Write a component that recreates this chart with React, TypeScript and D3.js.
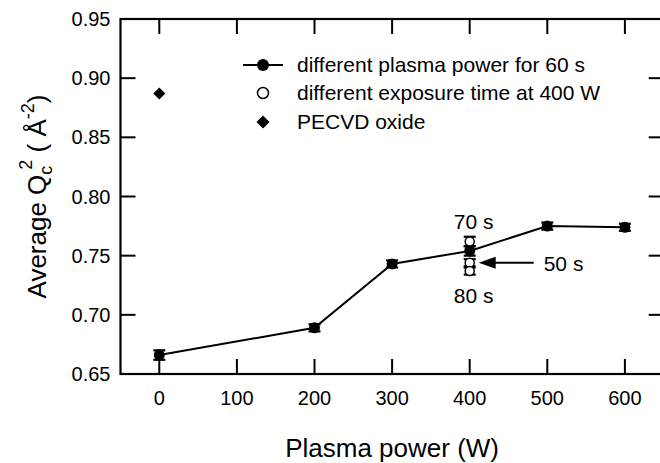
import React from "react";
import * as d3 from "d3";

const powers = [0, 200, 300, 400, 500, 600];
const avgQ = [0.666, 0.689, 0.743, 0.754, 0.775, 0.774];
const avgErr = [0.004, 0.003, 0.003, 0.004, 0.003, 0.003];

const expLabels = ["70 s", "50 s", "80 s"];
const expPower = [400, 400, 400];
const expQ = [0.762, 0.744, 0.737];
const expErr = [0.004, 0.003, 0.003];

const pecvdPower = [0];
const pecvdQ = [0.887];

const xTicks = [0, 100, 200, 300, 400, 500, 600];
const yTicks = [0.65, 0.7, 0.75, 0.8, 0.85, 0.9, 0.95];

const legendLabels = [
  "different plasma power for 60 s",
  "different exposure time at 400 W",
  "PECVD oxide",
];

const W = 660;
const H = 463;
const FONT = "'Liberation Sans', Arial, Helvetica, sans-serif";

export default function App() {
  const x = d3.scaleLinear().domain([-50, 650]).range([120.5, 663.7]);
  const y = d3.scaleLinear().domain([0.65, 0.95]).range([374, 19]);
  const line = d3
    .line<number>()
    .x((_, i) => x(powers[i]))
    .y((d) => y(d));
  const TL = 15;
  const left = x.range()[0];
  const right = x.range()[1];
  const top = y.range()[1];
  const bottom = y.range()[0];

  const errBar = (px: number, v: number, e: number, key: string) => {
    const cx = x(px);
    const y1 = y(v - e);
    const y2 = y(v + e);
    return (
      <g key={key} stroke="#000" strokeWidth={2.2}>
        <line x1={cx} x2={cx} y1={y1} y2={y2} />
        <line x1={cx - 6} x2={cx + 6} y1={y1} y2={y1} />
        <line x1={cx - 6} x2={cx + 6} y1={y2} y2={y2} />
      </g>
    );
  };

  const diamond = (cx: number, cy: number, r: number) =>
    `M${cx},${cy - r}L${cx + r},${cy}L${cx},${cy + r}L${cx - r},${cy}Z`;

  const arrowY = y(expQ[1]);
  const arrowTip = x(400) + 9;
  const legX = 263;
  const legY = [65, 93, 122];

  return (
    <svg
      width={W}
      height={H}
      style={{ position: "absolute", left: 0, top: 0, background: "#fff" }}
      fontFamily={FONT}
    >
      <rect x={0} y={0} width={W} height={H} fill="#fff" />
      <rect
        x={left}
        y={top}
        width={right - left}
        height={bottom - top}
        fill="none"
        stroke="#000"
        strokeWidth={2.2}
      />
      {xTicks.map((t) => (
        <g key={"xt" + t} stroke="#000" strokeWidth={2}>
          <line x1={x(t)} x2={x(t)} y1={bottom} y2={bottom - TL} />
          <line x1={x(t)} x2={x(t)} y1={top} y2={top + TL} />
        </g>
      ))}
      {xTicks.map((t) => (
        <text
          key={"xl" + t}
          x={x(t)}
          y={bottom + 31}
          textAnchor="middle"
          fontSize={20}
        >
          {t}
        </text>
      ))}
      {yTicks.map((t) => (
        <g key={"yt" + t} stroke="#000" strokeWidth={2}>
          <line x1={left} x2={left + TL} y1={y(t)} y2={y(t)} />
          <line x1={right} x2={right - TL} y1={y(t)} y2={y(t)} />
        </g>
      ))}
      {yTicks.map((t) => (
        <text
          key={"yl" + t}
          x={left - 10}
          y={y(t) + 7}
          textAnchor="end"
          fontSize={20}
        >
          {t.toFixed(2)}
        </text>
      ))}
      <text
        x={(left + right) / 2}
        y={457}
        textAnchor="middle"
        fontSize={26}
      >
        Plasma power (W)
      </text>
      <text
        transform={`translate(46,${(top + bottom) / 2}) rotate(-90)`}
        textAnchor="middle"
        fontSize={26}
      >
        Average Q
        <tspan fontSize={18} dy={6}>c</tspan>
        <tspan fontSize={18} dx={-4} dy={-20}>2</tspan>
        <tspan dy={14}> ( Å</tspan>
        <tspan fontSize={18} dy={-12}>-2</tspan>
        <tspan dy={12}>)</tspan>
      </text>

      <path d={line(avgQ) || ""} fill="none" stroke="#000" strokeWidth={2} />
      {powers.map((p, i) => errBar(p, avgQ[i], avgErr[i], "e" + i))}
      {powers.map((p, i) => (
        <circle key={"c" + i} cx={x(p)} cy={y(avgQ[i])} r={5.5} fill="#000" />
      ))}

      {expPower.map((p, i) => errBar(p, expQ[i], expErr[i], "ee" + i))}
      {expPower.map((p, i) => (
        <circle
          key={"o" + i}
          cx={x(p)}
          cy={y(expQ[i])}
          r={4.5}
          fill="#fff"
          stroke="#000"
          strokeWidth={1.5}
        />
      ))}

      {pecvdPower.map((p, i) => (
        <path key={"d" + i} d={diamond(x(p), y(pecvdQ[i]), 6)} fill="#000" />
      ))}

      <text x={x(400) + 4} y={y(expQ[0]) - 12} textAnchor="middle" fontSize={21}>
        {expLabels[0]}
      </text>
      <text x={x(400) + 4} y={y(expQ[2]) + 32} textAnchor="middle" fontSize={21}>
        {expLabels[2]}
      </text>
      <line
        x1={arrowTip + 12}
        x2={arrowTip + 55}
        y1={arrowY}
        y2={arrowY}
        stroke="#000"
        strokeWidth={2}
      />
      <path
        d={`M${arrowTip},${arrowY}L${arrowTip + 17},${arrowY - 6}L${arrowTip + 17},${arrowY + 6}Z`}
        fill="#000"
      />
      <text x={arrowTip + 65} y={arrowY + 8} fontSize={21}>
        {expLabels[1]}
      </text>

      <line x1={legX - 20} x2={legX + 20} y1={legY[0]} y2={legY[0]} stroke="#000" strokeWidth={2} />
      <circle cx={legX} cy={legY[0]} r={6} fill="#000" />
      <circle cx={legX} cy={legY[1]} r={5.5} fill="#fff" stroke="#000" strokeWidth={1.5} />
      <path d={diamond(legX, legY[2], 6.5)} fill="#000" />
      {legendLabels.map((l, i) => (
        <text key={"lg" + i} x={297} y={legY[i] + 7} fontSize={21}>
          {l}
        </text>
      ))}
    </svg>
  );
}
